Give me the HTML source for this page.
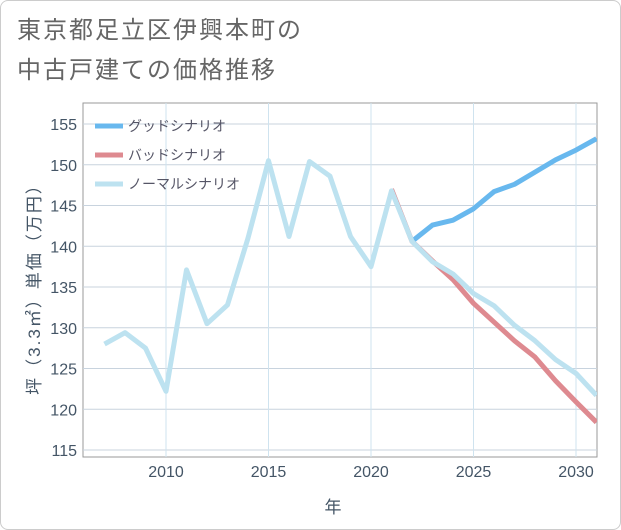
<!DOCTYPE html>
<html><head><meta charset="utf-8"><style>
body{margin:0;background:#fff;font-family:"Liberation Sans","Noto Sans CJK JP",sans-serif}
#wrap{position:relative;width:619px;height:528px;border:1px solid #ccc;border-radius:8px;background:#fff}
#title{position:absolute;left:16px;top:10px;font-size:24px;line-height:40px;color:#666;letter-spacing:2px}
</style></head><body>
<div id="wrap">
<div id="title">東京都足立区伊興本町の<br>中古戸建ての価格推移</div>
<svg id="chart" width="621" height="530" style="position:absolute;left:-1px;top:-1px"></svg>
</div>
<script>
const years=[2007,2008,2009,2010,2011,2012,2013,2014,2015,2016,2017,2018,2019,2020,2021,2022,2023,2024,2025,2026,2027,2028,2029,2030,2031];
const normal=[128,129.4,127.5,122.2,137.1,130.5,132.8,141,150.5,141.2,150.4,148.6,141.2,137.5,146.8,140.6,138.1,136.6,134.2,132.7,130.3,128.4,126.1,124.4,121.7];
const goodYears=[2022,2023,2024,2025,2026,2027,2028,2029,2030,2031];
const good=[140.6,142.6,143.2,144.6,146.7,147.6,149.1,150.6,151.8,153.2];
const badYears=[2021,2022,2023,2024,2025,2026,2027,2028,2029,2030,2031];
const bad=[147,140.6,138.2,135.9,133.0,130.7,128.4,126.4,123.5,120.9,118.4];
const yTicks=[115,120,125,130,135,140,145,150,155];
const xTicks=[2010,2015,2020,2025,2030];
const L=83,R=597,T=103,B=457;
const x=v=>166+(v-2010)*20.5;
const y=v=>450-(v-115)*8.15;
const svg=document.getElementById('chart');
const NS='http://www.w3.org/2000/svg';
function mk(t,a,p){const e=document.createElementNS(NS,t);for(const k in a)e.setAttribute(k,a[k]);(p||svg).appendChild(e);return e;}
let fr=mk('rect',{x:L,y:T,width:R-L,height:B-T,fill:'none',stroke:'#999','stroke-width':1});


yTicks.forEach(v=>{
 let g=mk('line',{x1:L,x2:R,y1:y(v),y2:y(v),stroke:'#c8d3de','stroke-width':1});
 
 
 let t=mk('text',{x:77,y:y(v)+6,'text-anchor':'end','font-size':16,fill:'#456'});
 t.textContent=v;
 
 
});
xTicks.forEach(v=>{
 let g=mk('line',{x1:x(v),x2:x(v),y1:T,y2:B,stroke:'#cfe3ef','stroke-width':1});
 
 
 let t=mk('text',{x:x(v),y:477,'text-anchor':'middle','font-size':16,fill:'#456'});
 t.textContent=v;
 
 
});
let xt=mk('text',{x:333,y:513,'text-anchor':'middle','font-size':17,fill:'#456'});
xt.textContent='年';


let yt=mk('text',{x:0,y:0,'text-anchor':'middle','font-size':17,'letter-spacing':2,fill:'#456',transform:'translate(40,285) rotate(-90)'});
yt.textContent='坪（3.3㎡）単価（万円）';


const cp=mk('clipPath',{id:'cp'});mk('rect',{x:L,y:T,width:R-L,height:B-T},cp);
function line(xs,vs,col,name){
 let p=mk('polyline',{points:xs.map((v,i)=>x(v)+','+y(vs[i])).join(' '),fill:'none',stroke:col,'stroke-width':5,'stroke-linejoin':'round','clip-path':'url(#cp)'});
 
 
}
line(badYears,bad,'#de8a90','bad-scenario-line');
line(goodYears,good,'#68b8ee','good-scenario-line');
line(years,normal,'#bde2f0','normal-scenario-line');
[['グッドシナリオ','#68b8ee'],['バッドシナリオ','#de8a90'],['ノーマルシナリオ','#bde2f0']].forEach((e,i)=>{
 const yy=126+i*29;
 let l=mk('line',{x1:95,x2:123,y1:yy,y2:yy,stroke:e[1],'stroke-width':5});
 
 
 let t=mk('text',{x:128,y:yy+5,'font-size':14,fill:'#556'});
 t.textContent=e[0];
 
 
});
</script>
</body></html>
